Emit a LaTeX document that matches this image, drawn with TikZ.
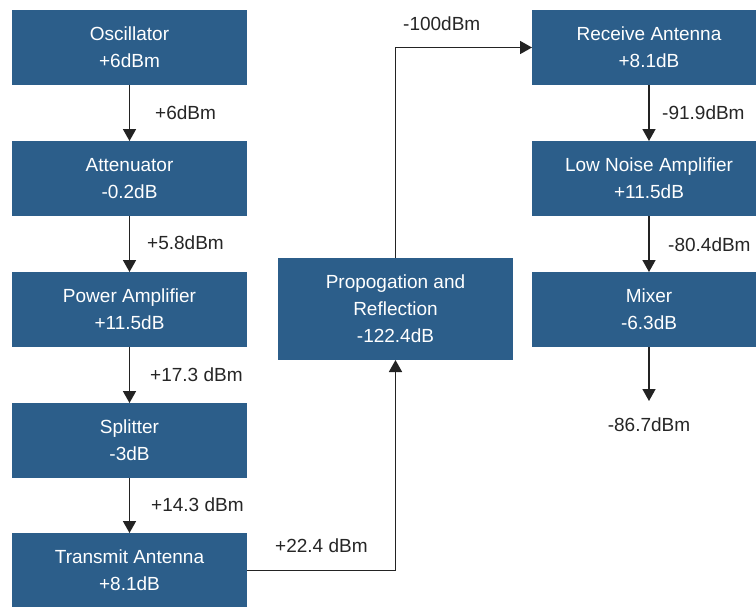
\documentclass[tikz,border=0pt]{standalone}
\usepackage{fontspec}
\setmainfont{Liberation Sans}
\usetikzlibrary{arrows.meta}
\definecolor{boxblue}{RGB}{44,94,138}
\definecolor{linegray}{RGB}{35,35,35}
\tikzset{
  block/.style={draw=none, fill=boxblue, text=white, minimum width=235pt,
    minimum height=75pt, inner sep=0pt, outer sep=0pt, align=center,
    font=\fontsize{19}{27}\selectfont},
  arr/.style={draw=linegray, line width=1.6pt, -{Triangle[width=13pt,length=12pt]}},
  lbl/.style={text=black!85, inner sep=0pt, anchor=west, font=\fontsize{19}{23}\selectfont}
}
\begin{document}
\begin{tikzpicture}[x=1pt,y=-1pt]
  \useasboundingbox (0,0) rectangle (756,606);
  \clip (0,0) rectangle (756,606);
  \fill[white] (0,0) rectangle (756,606);

  % transmit chain
  \node[block] (osc) at (129.5,47.5) {Oscillator\\+6dBm};
  \node[block] (att) at (129.5,178.5) {Attenuator\\-0.2dB};
  \node[block] (pa)  at (129.5,309.5) {Power Amplifier\\+11.5dB};
  \node[block] (spl) at (129.5,440.5) {Splitter\\-3dB};
  \node[block] (tx)  at (129.5,570.5) {Transmit Antenna\\+8.1dB};

  % channel
  \node[block, minimum height=102pt] (prop) at (395.5,309) {Propogation and\\Reflection\\-122.4dB};

  % receive chain
  \node[block, minimum width=234pt] (rx)  at (649,47.5)  {Receive Antenna\\+8.1dB};
  \node[block, minimum width=234pt] (lna) at (649,178.5) {Low Noise Amplifier\\+11.5dB};
  \node[block, minimum width=234pt] (mix) at (649,309.5) {Mixer\\-6.3dB};
  \coordinate (out) at (649,401);

  % connectors
  \draw[arr] (osc) -- (att);
  \draw[arr] (att) -- (pa);
  \draw[arr] (pa) -- (spl);
  \draw[arr] (spl) -- (tx);
  \draw[arr] (tx.east) -| (prop.south);
  \draw[arr] (prop.north) |- (rx.west);
  \draw[arr] (rx) -- (lna);
  \draw[arr] (lna) -- (mix);
  \draw[arr] (mix) -- (out);

  % power levels
  \node[lbl] (l1) at (155,113) {+6dBm};
  \node[lbl] (l2) at (147,243) {+5.8dBm};
  \node[lbl] (l3) at (150,375) {+17.3 dBm};
  \node[lbl] (l4) at (151,505) {+14.3 dBm};
  \node[lbl] (l5) at (275,546) {+22.4 dBm};
  \node[lbl] (l6) at (403,24) {-100dBm};
  \node[lbl] (l7) at (662,113) {-91.9dBm};
  \node[lbl] (l8) at (668,245) {-80.4dBm};
  \node[lbl, anchor=center] (l9) at (649,425) {-86.7dBm};
\end{tikzpicture}
\end{document}
